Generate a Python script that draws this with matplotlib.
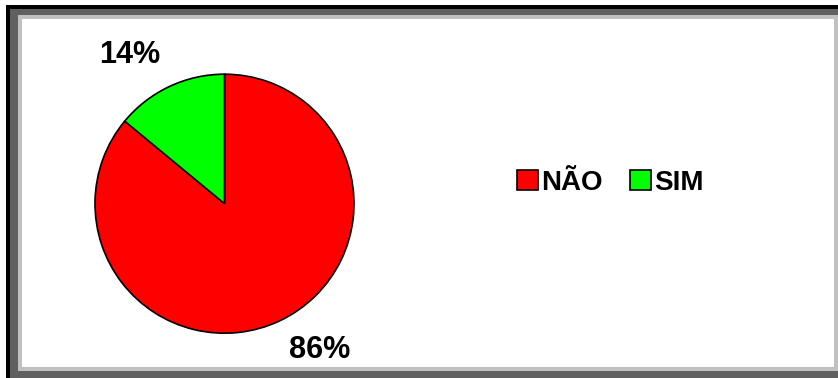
import matplotlib
matplotlib.use('Agg')
import matplotlib.pyplot as plt
from matplotlib.patches import Rectangle

plt.rcParams['font.family'] = ['Liberation Sans', 'DejaVu Sans']

labels = ['NÃO', 'SIM']
values = [86, 14]
colors = ['#ff0000', '#00ff00']

W, H = 838, 378
fig = plt.figure(figsize=(W/100, H/100), dpi=100)
fig.patch.set_facecolor('white')

# framed background: black / dark gray / light gray / white (pixel boxes, top-left origin)
def box(x0, y0, x1, y1, c):
    fig.patches.append(Rectangle((x0/W, 1-y1/H), (x1-x0)/W, (y1-y0)/H,
                                 transform=fig.transFigure, facecolor=c,
                                 edgecolor='none', zorder=-10))

box(6, 5, W+10, H+10, 'black')
box(10, 9, W+10, H+10, '#606060')
box(18, 15, W+10, 371, '#c0c0c0')
box(22, 19, 834, 367, 'white')

# pie axes: centre (224.5, 203.7), radius 129.5 px
cx, cy, r = 224.5, 203.7, 129.5
ax = fig.add_axes([(cx-r)/W, 1-(cy+r)/H, 2*r/W, 2*r/H])
wedges, texts = ax.pie(values, colors=colors, startangle=90, counterclock=False,
                       labels=['%d%%' % v for v in values], labeldistance=1.36,
                       wedgeprops=dict(edgecolor='black', linewidth=1.2),
                       textprops=dict(fontsize=22, fontweight='bold', color='black'))
ax.set_xlim(-1, 1)
ax.set_ylim(-1, 1)
ax.set_aspect('equal')
# label spots as placed in the original
texts[0].set_position((95.5/r, -146.3/r))
texts[1].set_position((-94.5/r, 148.7/r))
for t in texts:
    t.set_ha('center')
    t.set_va('center')

fig.legend(wedges, labels, loc='center', bbox_to_anchor=(610.5/W, 1-183/H),
           ncol=2, frameon=False, prop=dict(size=20, weight='bold'),
           handlelength=0.75, handleheight=0.75, handletextpad=0.12,
           columnspacing=0.97, borderpad=0)

fig.savefig('out.png', dpi=100)
